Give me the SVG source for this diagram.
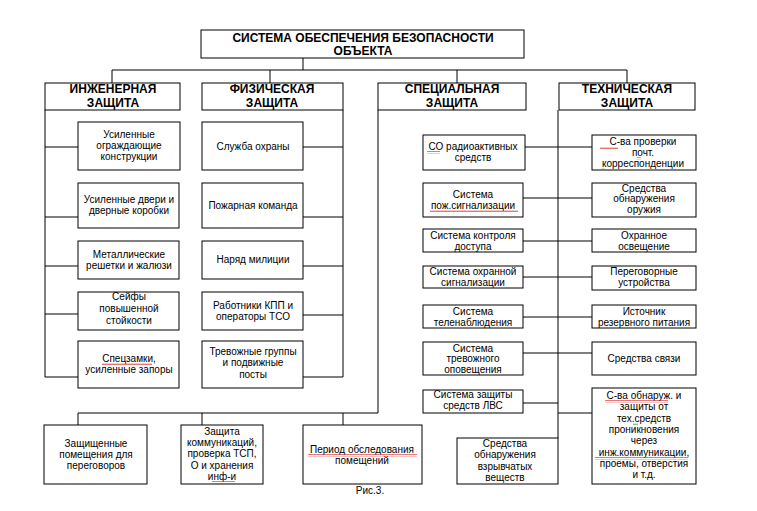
<svg xmlns="http://www.w3.org/2000/svg" width="757" height="511" viewBox="0 0 757 511">
<style>
.b{fill:#fff;stroke:#000;stroke-width:1}
.c line,.c polyline{stroke:#000;stroke-width:1;fill:none}
text{font-family:"Liberation Sans",Arial,sans-serif;font-size:10px;fill:#000;text-anchor:middle}
.h{font-size:12px;font-weight:bold}
</style>
<defs>
<pattern id="wr" width="4" height="3" patternUnits="userSpaceOnUse"><path d="M0 2 L1 0.6 L2 2 L3 0.6 L4 2" stroke="#d22" fill="none" stroke-width="0.7"/></pattern>
<pattern id="wg" width="4" height="3" patternUnits="userSpaceOnUse"><path d="M0 2 L1 0.6 L2 2 L3 0.6 L4 2" stroke="#3a3" fill="none" stroke-width="0.7"/></pattern>
</defs>
<rect width="757" height="511" fill="#fff"/>
<g class="c" id="connectors">
<line x1="303" y1="58" x2="303" y2="70"/>
<line x1="112" y1="70" x2="627" y2="70"/>
<line x1="112" y1="70" x2="112" y2="83"/>
<line x1="270" y1="70" x2="270" y2="83"/>
<line x1="457" y1="70" x2="457" y2="83"/>
<line x1="627" y1="70" x2="627" y2="83"/>
<line x1="45" y1="110" x2="45" y2="377"/>
<line x1="45" y1="147" x2="78" y2="147"/>
<line x1="45" y1="217" x2="78" y2="217"/>
<line x1="45" y1="266" x2="78" y2="266"/>
<line x1="45" y1="314" x2="78" y2="314"/>
<line x1="45" y1="377" x2="78" y2="377"/>
<line x1="343" y1="110" x2="343" y2="377"/>
<line x1="303" y1="147" x2="343" y2="147"/>
<line x1="303" y1="217" x2="343" y2="217"/>
<line x1="303" y1="266" x2="343" y2="266"/>
<line x1="303" y1="315" x2="343" y2="315"/>
<line x1="303" y1="377" x2="343" y2="377"/>
<polyline points="378,110 378,413 78,413 78,425"/>
<line x1="202" y1="413" x2="202" y2="425"/>
<line x1="343" y1="413" x2="343" y2="425"/>
<line x1="558" y1="110" x2="558" y2="438"/>
<line x1="525" y1="147" x2="592" y2="147"/>
<line x1="523" y1="198" x2="592" y2="198"/>
<line x1="523" y1="241" x2="592" y2="241"/>
<line x1="523" y1="277" x2="592" y2="277"/>
<line x1="523" y1="317" x2="592" y2="317"/>
<line x1="523" y1="353" x2="592" y2="353"/>
<line x1="523" y1="403" x2="558" y2="403"/>
<line x1="558" y1="413" x2="592" y2="413"/>
</g>
<g id="title"><rect class="b" x="201" y="30" width="323" height="28"/><text class="h" x="363" y="42">СИСТЕМА ОБЕСПЕЧЕНИЯ БЕЗОПАСНОСТИ</text><text class="h" x="363" y="55">ОБЪЕКТА</text></g>
<g id="h-eng"><rect class="b" x="45" y="83" width="135" height="27"/><text class="h" x="113" y="93">ИНЖЕНЕРНАЯ</text><text class="h" x="113" y="107">ЗАЩИТА</text></g>
<g id="h-phys"><rect class="b" x="202" y="83" width="141" height="27"/><text class="h" x="272" y="93">ФИЗИЧЕСКАЯ</text><text class="h" x="272" y="107">ЗАЩИТА</text></g>
<g id="h-spec"><rect class="b" x="378" y="83" width="148" height="27"/><text class="h" x="452" y="93">СПЕЦИАЛЬНАЯ</text><text class="h" x="452" y="107">ЗАЩИТА</text></g>
<g id="h-tech"><rect class="b" x="559" y="83" width="136" height="27"/><text class="h" x="627" y="93">ТЕХНИЧЕСКАЯ</text><text class="h" x="627" y="107">ЗАЩИТА</text></g>

<g id="e1"><rect class="b" x="78" y="122" width="102" height="48"/><text x="129" y="138">Усиленные</text><text x="129" y="149">ограждающие</text><text x="129" y="160">конструкции</text></g>
<g id="e2"><rect class="b" x="78" y="183" width="101" height="45"/><text x="129" y="203">Усиленные двери и</text><text x="129" y="214">дверные коробки</text></g>
<g id="e3"><rect class="b" x="78" y="241" width="101" height="38"/><text x="129" y="258">Металлические</text><text x="129" y="269">решетки и жалюзи</text></g>
<g id="e4"><rect class="b" x="78" y="292" width="101" height="38"/><text x="129" y="300">Сейфы</text><text x="129" y="312">повышенной</text><text x="129" y="324">стойкости</text></g>
<g id="e5"><rect class="b" x="78" y="341" width="101" height="47"/><text x="129" y="362">Спецзамки,</text><text x="129" y="373">усиленные запоры</text></g>

<g id="p1"><rect class="b" x="202" y="122" width="101" height="48"/><text x="253" y="150">Служба охраны</text></g>
<g id="p2"><rect class="b" x="202" y="183" width="101" height="45"/><text x="253" y="209">Пожарная команда</text></g>
<g id="p3"><rect class="b" x="202" y="241" width="101" height="38"/><text x="253" y="263">Наряд милиции</text></g>
<g id="p4"><rect class="b" x="202" y="292" width="101" height="38"/><text x="253" y="309">Работники КПП и</text><text x="253" y="320">операторы ТСО</text></g>
<g id="p5"><rect class="b" x="202" y="341" width="101" height="47"/><text x="253" y="355">Тревожные группы</text><text x="253" y="366">и подвижные</text><text x="253" y="378">посты</text></g>

<g id="s1"><rect class="b" x="423" y="135" width="102" height="35"/><text x="473" y="150">СО радиоактивных</text><text x="473" y="161">средств</text></g>
<g id="s2"><rect class="b" x="423" y="183" width="100" height="34"/><text x="473" y="198">Система</text><text x="473" y="209">пож.сигнализации</text></g>
<g id="s3"><rect class="b" x="423" y="229" width="100" height="23"/><text x="473" y="239">Система контроля</text><text x="473" y="250">доступа</text></g>
<g id="s4"><rect class="b" x="423" y="266" width="100" height="22"/><text x="473" y="275">Система охранной</text><text x="473" y="286">сигнализации</text></g>
<g id="s5"><rect class="b" x="423" y="305" width="100" height="23"/><text x="473" y="315">Система</text><text x="473" y="326">теленаблюдения</text></g>
<g id="s6"><rect class="b" x="423" y="342" width="100" height="33"/><text x="473" y="352">Система</text><text x="473" y="362">тревожного</text><text x="473" y="373">оповещения</text></g>
<g id="s7"><rect class="b" x="423" y="390" width="100" height="23"/><text x="473" y="398">Система защиты</text><text x="473" y="409">средств ЛВС</text></g>
<g id="s8"><rect class="b" x="457" y="438" width="101" height="46"/><text x="505" y="447">Средства</text><text x="505" y="458">обнаружения</text><text x="505" y="470">взрывчатых</text><text x="505" y="481">веществ</text></g>

<g id="t1"><rect class="b" x="592" y="135" width="104" height="35"/><text x="643" y="145">С-ва проверки</text><text x="643" y="156">почт.</text><text x="643" y="167">корреспонденции</text></g>
<g id="t2"><rect class="b" x="592" y="183" width="104" height="34"/><text x="644" y="192">Средства</text><text x="644" y="202">обнаружения</text><text x="644" y="213">оружия</text></g>
<g id="t3"><rect class="b" x="592" y="229" width="104" height="23"/><text x="644" y="239">Охранное</text><text x="644" y="250">освещение</text></g>
<g id="t4"><rect class="b" x="592" y="266" width="104" height="24"/><text x="644" y="275">Переговорные</text><text x="644" y="286">устройства</text></g>
<g id="t5"><rect class="b" x="592" y="305" width="104" height="23"/><text x="644" y="315">Источник</text><text x="644" y="326">резервного питания</text></g>
<g id="t6"><rect class="b" x="592" y="342" width="104" height="33"/><text x="644" y="362">Средства связи</text></g>
<g id="t7"><rect class="b" x="592" y="388" width="104" height="96"/><text x="644" y="399">С-ва обнаруж. и</text><text x="644" y="410">защиты от</text><text x="644" y="422">тех.средств</text><text x="644" y="433">проникновения</text><text x="644" y="444">через</text><text x="644" y="456">инж.коммуникации,</text><text x="644" y="467">проемы, отверстия</text><text x="644" y="478">и т.д.</text></g>

<g id="b1"><rect class="b" x="44" y="425" width="103" height="59"/><text x="96" y="447">Защищенные</text><text x="96" y="458">помещения для</text><text x="96" y="469">переговоров</text></g>
<g id="b2"><rect class="b" x="181" y="425" width="82" height="59"/><text x="222" y="435">Защита</text><text x="222" y="446">коммуникаций,</text><text x="222" y="457">проверка ТСП,</text><text x="222" y="469">О и хранения</text><text x="222" y="480">инф-и</text></g>
<g id="b3"><rect class="b" x="303" y="425" width="119" height="59"/><text x="362" y="453">Период обследования</text><text x="362" y="464">помещений</text></g>
<text x="370" y="494" font-size="9">Рис.3.</text>

<g id="spellcheck">
<rect x="427" y="151" width="13" height="3" fill="url(#wr)"/>
<rect x="430" y="210" width="88" height="3" fill="url(#wr)"/>
<rect x="102" y="363" width="50" height="3" fill="url(#wr)"/>
<rect x="600" y="146" width="18" height="3" fill="url(#wr)"/>
<rect x="637" y="157" width="4" height="3" fill="url(#wg)"/>
<rect x="601" y="168" width="4" height="3" fill="url(#wg)"/>
<rect x="308" y="454" width="109" height="3" fill="url(#wr)"/>
<rect x="212" y="481" width="23" height="3" fill="url(#wr)"/>
<rect x="605" y="400" width="63" height="3" fill="url(#wr)"/>
<rect x="633" y="423" width="5" height="3" fill="url(#wg)"/>
<rect x="595" y="457" width="93" height="3" fill="url(#wr)"/>
</g>
</svg>
